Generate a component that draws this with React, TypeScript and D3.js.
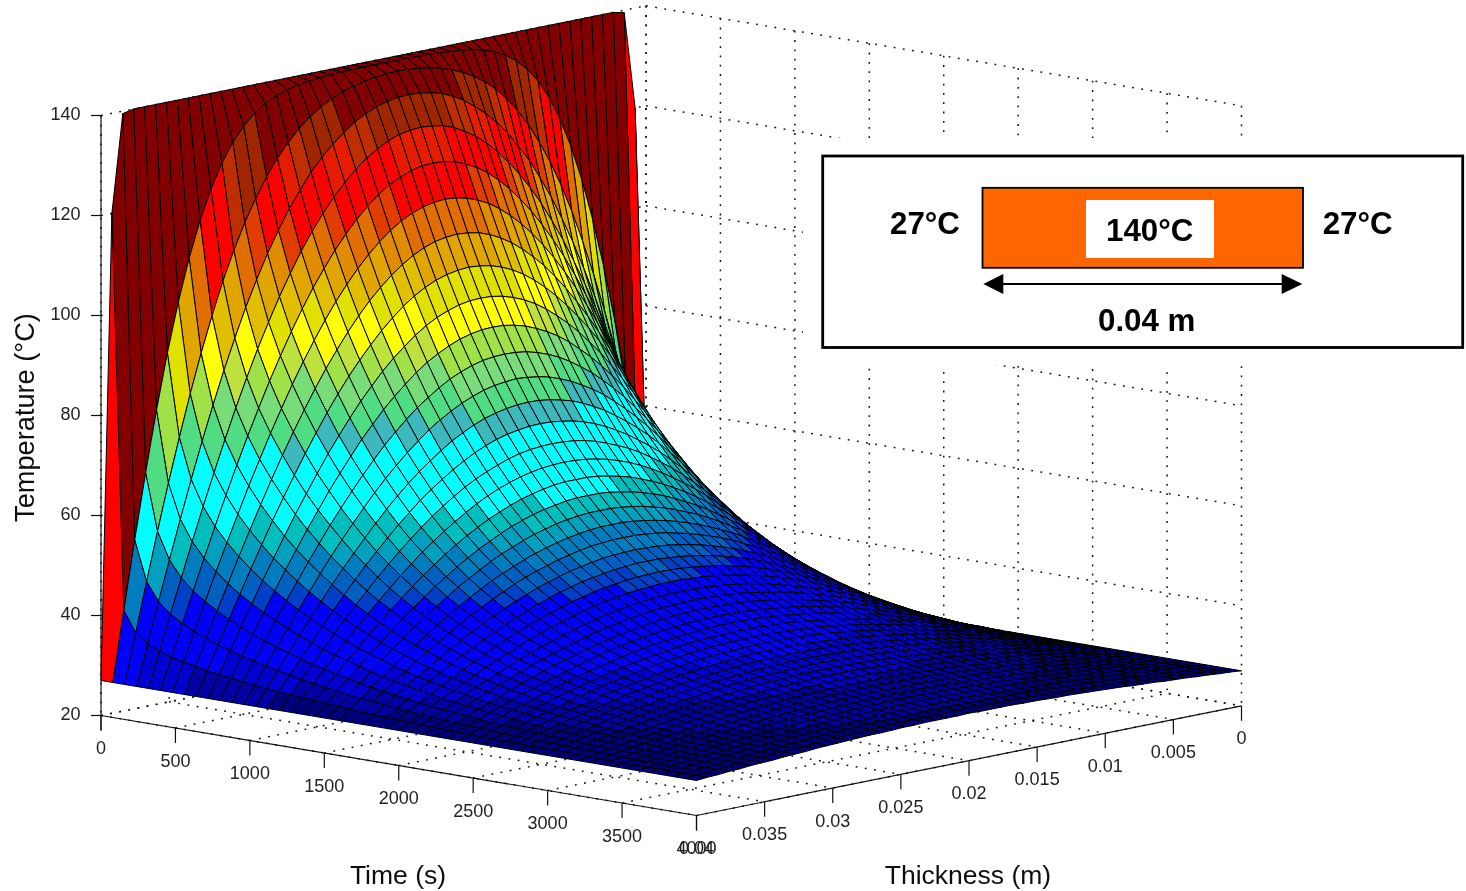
import React from "react";
import * as d3 from "d3";

const timeTicks = [0, 500, 1000, 1500, 2000, 2500, 3000, 3500, 4000];
const thicknessTicks = [0, 0.005, 0.01, 0.015, 0.02, 0.025, 0.03, 0.035, 0.04];
const thicknessTickLabels = ["0", "0.005", "0.01", "0.015", "0.02", "0.025", "0.03", "0.035", "0.04"];
const tempTicks = [20, 40, 60, 80, 100, 120, 140];

const timeStep = 80; // s between rows of the mesh
const thicknessStep = 0.0008; // m between columns of the mesh
const midColumn = 25;

// temperature, one row per time step (t = 0, 80, 160 ...),
// from the face of the plate to mid thickness. the other half is the mirror image.
const tempRows = [
  [27,120,139.5,140,140,140,140,140,140,140,140,140,140,140,140,140,140,140,140,140,140,140,140,140,140,140],
  [27,41.0,54.6,67.6,79.7,90.7,100.4,108.8,115.9,121.7,126.5,130.2,133.0,135.1,136.7,137.8,138.5,139.1,139.4,139.6,139.8,139.9,139.9,140,140,140],
  [27,36.9,46.7,56.3,65.5,74.2,82.5,90.2,97.2,103.7,109.4,114.5,118.9,122.8,126.1,128.8,131.2,133.1,134.6,135.8,136.8,137.5,138.0,138.4,138.6,138.7],
  [27,35.1,43.1,51.0,58.7,66.2,73.4,80.2,86.7,92.7,98.4,103.5,108.3,112.5,116.5,119.7,122.9,125.4,127.6,129.4,131.1,132.3,133.3,133.9,134.3,134.4],
  [27,34.0,41.0,47.8,54.6,61.2,67.5,73.7,79.6,85.2,90.5,95.4,100.1,104.3,108.3,111.8,115.0,117.8,120.3,122.5,124.3,125.7,126.9,127.7,128.1,128.3],
  [27,33.2,39.5,45.6,51.7,57.6,63.4,69.0,74.4,79.5,84.5,89.1,93.5,97.6,101.4,104.8,108.0,110.8,113.3,115.5,117.4,118.9,120.0,120.9,121.4,121.5],
  [27,32.7,38.3,43.9,49.4,54.8,60.0,65.2,70.1,74.9,79.4,83.8,87.9,91.7,95.3,98.6,101.6,104.3,106.7,108.8,110.6,112.1,113.2,114.0,114.5,114.7],
  [27,32.2,37.3,42.4,47.4,52.4,57.2,61.9,66.5,70.9,75.1,79.1,82.9,86.5,89.8,92.9,95.7,98.3,100.5,102.5,104.2,105.6,106.7,107.5,107.9,108.1],
  [27,31.7,36.4,41.1,45.7,50.3,54.7,59.1,63.3,67.3,71.2,74.9,78.5,81.8,84.9,87.7,90.3,92.7,94.8,96.7,98.3,99.6,100.6,101.3,101.7,101.9],
  [27,31.3,35.7,40.0,44.2,48.4,52.4,56.4,60.3,64.0,67.6,71.1,74.3,77.4,80.3,82.9,85.4,87.6,89.5,91.3,92.8,94.0,94.9,95.6,96.0,96.1],
  [27,31.0,35.0,38.9,42.8,46.7,50.5,54.1,57.7,61.1,64.5,67.6,70.6,73.5,76.1,78.6,80.8,82.8,84.7,86.3,87.6,88.7,89.6,90.2,90.6,90.7],
  [27,30.7,34.4,38.0,41.6,45.2,48.6,52.0,55.3,58.5,61.5,64.4,67.2,69.8,72.3,74.5,76.6,78.5,80.1,81.6,82.9,83.9,84.7,85.3,85.6,85.7],
  [27,30.4,33.8,37.1,40.5,43.7,46.9,50.1,53.1,56.0,58.8,61.5,64.1,66.5,68.7,70.8,72.7,74.5,76.0,77.3,78.5,79.4,80.2,80.7,81.0,81.2],
  [27,30.1,33.3,36.4,39.4,42.4,45.4,48.3,51.1,53.7,56.3,58.8,61.2,63.4,65.5,67.4,69.1,70.7,72.2,73.4,74.5,75.4,76.0,76.5,76.8,76.9],
  [27,29.9,32.8,35.6,38.4,41.2,43.9,46.6,49.2,51.7,54.0,56.3,58.5,60.5,62.5,64.2,65.8,67.3,68.6,69.8,70.8,71.6,72.2,72.6,72.9,73.0],
  [27,29.7,32.3,34.9,37.5,40.1,42.6,45.1,47.4,49.7,51.9,54.0,56.0,57.9,59.7,61.3,62.8,64.2,65.4,66.4,67.3,68.1,68.7,69.1,69.3,69.4],
  [27,29.5,31.9,34.3,36.7,39.1,41.4,43.6,45.8,47.9,50.0,51.9,53.8,55.5,57.1,58.6,60.0,61.3,62.4,63.4,64.2,64.9,65.4,65.8,66.0,66.1],
  [27,29.3,31.5,33.8,36.0,38.1,40.3,42.3,44.4,46.3,48.2,50.0,51.7,53.3,54.8,56.2,57.4,58.6,59.6,60.5,61.3,61.9,62.4,62.8,63.0,63.0],
  [27,29.1,31.2,33.2,35.3,37.3,39.2,41.1,43.0,44.8,46.5,48.2,49.7,51.2,52.6,53.9,55.0,56.1,57.1,57.9,58.6,59.2,59.6,60.0,60.2,60.2],
  [27,28.9,30.8,32.7,34.6,36.5,38.3,40.0,41.8,43.4,45.0,46.5,48.0,49.3,50.6,51.8,52.9,53.8,54.7,55.5,56.1,56.7,57.1,57.4,57.6,57.6],
  [27,28.8,30.5,32.3,34.0,35.7,37.4,39.0,40.6,42.1,43.6,45.0,46.3,47.6,48.8,49.8,50.8,51.7,52.5,53.2,53.8,54.3,54.7,55.0,55.2,55.2],
  [27,28.6,30.3,31.9,33.5,35.0,36.6,38.1,39.5,40.9,42.3,43.6,44.8,46.0,47.0,48.1,49.0,49.8,50.5,51.2,51.7,52.2,52.6,52.8,53.0,53.0],
  [27,28.5,30.0,31.5,33.0,34.4,35.8,37.2,38.6,39.9,41.1,42.3,43.4,44.5,45.5,46.4,47.3,48.0,48.7,49.3,49.8,50.2,50.6,50.8,50.9,51.0],
  [27,28.4,29.8,31.1,32.5,33.8,35.1,36.4,37.7,38.8,40.0,41.1,42.1,43.1,44.0,44.9,45.7,46.4,47.0,47.6,48.0,48.4,48.7,48.9,49.1,49.1],
  [27,28.3,29.6,30.8,32.1,33.3,34.5,35.7,36.8,37.9,39.0,40.0,41.0,41.9,42.7,43.5,44.2,44.9,45.4,46.0,46.4,46.7,47.0,47.2,47.3,47.4],
  [27,28.2,29.4,30.5,31.7,32.8,33.9,35.0,36.1,37.1,38.0,39.0,39.9,40.7,41.5,42.2,42.9,43.5,44.0,44.5,44.9,45.2,45.5,45.6,45.8,45.8],
  [27,28.1,29.2,30.2,31.3,32.4,33.4,34.4,35.3,36.3,37.2,38.0,38.9,39.6,40.3,41.0,41.6,42.2,42.7,43.1,43.5,43.8,44.0,44.2,44.3,44.3],
  [27,28.0,29.0,30.0,31.0,31.9,32.9,33.8,34.7,35.6,36.4,37.2,37.9,38.6,39.3,39.9,40.5,41.0,41.4,41.8,42.2,42.5,42.7,42.8,42.9,43.0],
  [27,27.9,28.8,29.8,30.7,31.5,32.4,33.3,34.1,34.9,35.7,36.4,37.1,37.7,38.3,38.9,39.4,39.9,40.3,40.7,41.0,41.3,41.5,41.6,41.7,41.7],
  [27,27.9,28.7,29.5,30.4,31.2,32.0,32.8,33.5,34.3,35.0,35.6,36.3,36.9,37.5,38.0,38.5,38.9,39.3,39.6,39.9,40.1,40.3,40.5,40.5,40.6],
  [27,27.8,28.6,29.3,30.1,30.9,31.6,32.3,33.0,33.7,34.3,35.0,35.6,36.1,36.6,37.1,37.6,38.0,38.3,38.6,38.9,39.1,39.3,39.4,39.5,39.5],
  [27,27.7,28.4,29.2,29.9,30.6,31.2,31.9,32.6,33.2,33.8,34.3,34.9,35.4,35.9,36.3,36.7,37.1,37.4,37.7,38.0,38.2,38.3,38.4,38.5,38.5],
  [27,27.7,28.3,29.0,29.6,30.3,30.9,31.5,32.1,32.7,33.2,33.8,34.3,34.7,35.2,35.6,36.0,36.3,36.6,36.9,37.1,37.3,37.4,37.5,37.6,37.6],
  [27,27.6,28.2,28.8,29.4,30.0,30.6,31.2,31.7,32.2,32.8,33.2,33.7,34.1,34.5,34.9,35.3,35.6,35.9,36.1,36.3,36.5,36.6,36.7,36.8,36.8],
  [27,27.6,28.1,28.7,29.2,29.8,30.3,30.8,31.4,31.8,32.3,32.8,33.2,33.6,34.0,34.3,34.6,34.9,35.2,35.4,35.6,35.7,35.9,36.0,36.0,36.0],
  [27,27.5,28.0,28.6,29.1,29.6,30.1,30.5,31.0,31.5,31.9,32.3,32.7,33.1,33.4,33.7,34.0,34.3,34.5,34.7,34.9,35.1,35.2,35.3,35.3,35.3],
  [27,27.5,28.0,28.4,28.9,29.4,29.8,30.3,30.7,31.1,31.5,31.9,32.3,32.6,32.9,33.2,33.5,33.7,33.9,34.1,34.3,34.4,34.5,34.6,34.7,34.7],
  [27,27.4,27.9,28.3,28.8,29.2,29.6,30.0,30.4,30.8,31.2,31.5,31.8,32.2,32.4,32.7,33.0,33.2,33.4,33.6,33.7,33.8,33.9,34.0,34.1,34.1],
  [27,27.4,27.8,28.2,28.6,29.0,29.4,29.8,30.1,30.5,30.8,31.2,31.5,31.8,32.0,32.3,32.5,32.7,32.9,33.1,33.2,33.3,33.4,33.5,33.5,33.5],
  [27,27.4,27.8,28.1,28.5,28.9,29.2,29.6,29.9,30.2,30.5,30.8,31.1,31.4,31.6,31.9,32.1,32.3,32.4,32.6,32.7,32.8,32.9,33.0,33.0,33.0],
  [27,27.3,27.7,28.0,28.4,28.7,29.0,29.4,29.7,30.0,30.3,30.5,30.8,31.0,31.3,31.5,31.7,31.9,32.0,32.2,32.3,32.4,32.4,32.5,32.5,32.5],
  [27,27.3,27.6,28.0,28.3,28.6,28.9,29.2,29.5,29.7,30.0,30.3,30.5,30.7,30.9,31.1,31.3,31.5,31.6,31.7,31.9,31.9,32.0,32.1,32.1,32.1],
  [27,27.3,27.6,27.9,28.2,28.5,28.7,29.0,29.3,29.5,29.8,30.0,30.2,30.4,30.6,30.8,31.0,31.1,31.3,31.4,31.5,31.6,31.6,31.7,31.7,31.7],
  [27,27.3,27.5,27.8,28.1,28.3,28.6,28.8,29.1,29.3,29.6,29.8,30.0,30.2,30.3,30.5,30.7,30.8,30.9,31.0,31.1,31.2,31.3,31.3,31.3,31.3],
  [27,27.3,27.5,27.7,28.0,28.2,28.5,28.7,28.9,29.1,29.4,29.5,29.7,29.9,30.1,30.2,30.4,30.5,30.6,30.7,30.8,30.9,30.9,31.0,31.0,31.0],
  [27,27.2,27.5,27.7,27.9,28.1,28.4,28.6,28.8,29.0,29.2,29.3,29.5,29.7,29.8,30.0,30.1,30.2,30.3,30.4,30.5,30.6,30.6,30.7,30.7,30.7],
  [27,27.2,27.4,27.6,27.8,28.1,28.3,28.4,28.6,28.8,29.0,29.2,29.3,29.5,29.6,29.8,29.9,30.0,30.1,30.2,30.2,30.3,30.3,30.4,30.4,30.4],
  [27,27.2,27.4,27.6,27.8,28.0,28.2,28.3,28.5,28.7,28.8,29.0,29.1,29.3,29.4,29.5,29.6,29.7,29.8,29.9,30.0,30.0,30.1,30.1,30.1,30.1],
  [27,27.2,27.4,27.5,27.7,27.9,28.1,28.2,28.4,28.5,28.7,28.8,29.0,29.1,29.2,29.3,29.4,29.5,29.6,29.7,29.7,29.8,29.8,29.9,29.9,29.9],
  [27,27.2,27.3,27.5,27.7,27.8,28.0,28.1,28.3,28.4,28.6,28.7,28.8,28.9,29.0,29.2,29.2,29.3,29.4,29.5,29.5,29.6,29.6,29.6,29.7,29.7],
  [27,27.2,27.3,27.5,27.6,27.8,27.9,28.0,28.2,28.3,28.4,28.6,28.7,28.8,28.9,29.0,29.1,29.1,29.2,29.3,29.3,29.4,29.4,29.4,29.4,29.5],
];

// the picture has a reduced palette, so the colour map comes in flat bands
const bandLimits = [30, 32.5, 36, 47, 49, 52, 55.5, 58.5, 62, 75, 79, 83.5, 88, 91, 94, 99, 103, 106, 110, 113, 116, 119.5, 127, 129.5, 133, 136.5];
const bandColors = [
  "#00007d", "#0000a5", "#0000d2", "#0000ff", "#0040c8", "#0060c0", "#007dbe", "#00a0be", "#00bebe", "#00ffff",
  "#3cb9be", "#50dc82", "#78dc78", "#a0e146", "#bee13c", "#ffff00", "#e1e100", "#e1be00", "#e1a500", "#e18c00",
  "#e16e00", "#e13c00", "#ff0000", "#e61e00", "#be2d00", "#a02800", "#820000",
];

const colorOf = d3.scaleThreshold<number, string>().domain(bandLimits).range(bandColors);

// orthographic view: each data axis adds its own screen offset
const xFromTime = d3.scaleLinear().domain([0, 4000]).range([0, 595.5]);
const yFromTime = d3.scaleLinear().domain([0, 4000]).range([0, 100]);
const xFromThickness = d3.scaleLinear().domain([0.04, 0]).range([101, 646]);
const yFromThickness = d3.scaleLinear().domain([0.04, 0]).range([0, -109.7]);
const yFromTemp = d3.scaleLinear().domain([20, 140]).range([715.5, 115.5]);

const project = (t: number, x: number, z: number): [number, number] => [
  xFromThickness(x) + xFromTime(t),
  yFromTemp(z) + yFromTime(t) + yFromThickness(x),
];

const tempAt = (row: number, col: number) =>
  tempRows[row][col <= midColumn ? col : 2 * midColumn - col];

const nodeT = (row: number) => row * timeStep;
const nodeX = (col: number) => 0.04 - col * thicknessStep;

const outline = d3.line();

// far rows first and far columns first, so nearer faces paint over
const faces: { d: string; fill: string }[] = [];
for (let row = 0; row < tempRows.length - 1; row++) {
  for (let col = 2 * midColumn - 1; col >= 0; col--) {
    const corners: [number, number][] = [
      project(nodeT(row), nodeX(col), tempAt(row, col)),
      project(nodeT(row), nodeX(col + 1), tempAt(row, col + 1)),
      project(nodeT(row + 1), nodeX(col + 1), tempAt(row + 1, col + 1)),
      project(nodeT(row + 1), nodeX(col), tempAt(row + 1, col)),
    ];
    faces.push({ d: outline(corners) + "Z", fill: colorOf(tempAt(row, col + 1)) });
  }
}

const FONT = "'Liberation Sans', Arial, sans-serif";
const GRID = { stroke: "#111", strokeWidth: 1.5, strokeDasharray: "1.8 7.5", fill: "none" };
const AXIS = { stroke: "#111", strokeWidth: 1.2 };

function Seg({ a, b, style }: { a: [number, number]; b: [number, number]; style: any }) {
  return <line x1={a[0]} y1={a[1]} x2={b[0]} y2={b[1]} {...style} />;
}

export default function App() {
  const topT = 140;
  const floor = 20;
  return (
    <svg width={1466} height={891} style={{ position: "absolute", left: 0, top: 0, background: "#fff" }}>
      {/* the reference is a slightly soft upscaled screenshot */}
      <filter id="soft" x="0" y="0" width="100%" height="100%" filterUnits="userSpaceOnUse">
        <feGaussianBlur stdDeviation={0.45} />
      </filter>
      <g filter="url(#soft)">
        <rect width={1466} height={891} fill="#fff" />
        {/* back planes and floor */}
        <g>
          {tempTicks.map((z) => (
            <g key={z}>
              <Seg a={project(0, 0.04, z)} b={project(0, 0, z)} style={GRID} />
              <Seg a={project(0, 0, z)} b={project(4000, 0, z)} style={GRID} />
            </g>
          ))}
          {timeTicks.map((t) => (
            <g key={t}>
              <Seg a={project(t, 0, topT)} b={project(t, 0, floor)} style={GRID} />
              <Seg a={project(t, 0.04, floor)} b={project(t, 0, floor)} style={GRID} />
            </g>
          ))}
          {thicknessTicks.map((x) => (
            <g key={x}>
              <Seg a={project(0, x, topT)} b={project(0, x, floor)} style={GRID} />
              <Seg a={project(0, x, floor)} b={project(4000, x, floor)} style={GRID} />
            </g>
          ))}
        </g>

        {/* the inset was pasted on a white patch that hides part of the grid */}
        <rect x={803} y={138} width={663} height={227} fill="#fff" />

        {/* axes */}
        <g fontFamily={FONT} fontSize={18} fill="#222">
          <Seg a={project(0, 0.04, 140)} b={[101, 730.5]} style={AXIS} />
          <Seg a={project(0, 0.04, 20)} b={project(4000, 0.04, 20)} style={AXIS} />
          <Seg a={project(4000, 0.04, 20)} b={project(4000, 0, 20)} style={AXIS} />
          {tempTicks.map((z) => {
            const [px, py] = project(0, 0.04, z);
            return (
              <g key={z}>
                <line x1={px - 10} x2={px} y1={py} y2={py} {...AXIS} />
                <text x={80.5} y={py + 4.5} textAnchor="end">{z}</text>
              </g>
            );
          })}
          {timeTicks.map((t) => {
            const [px, py] = project(t, 0.04, 20);
            return (
              <g key={t}>
                <line x1={px} x2={px} y1={py} y2={py + 15} {...AXIS} />
                <text x={px} y={py + 38.5} textAnchor="middle">{t}</text>
              </g>
            );
          })}
          {thicknessTicks.map((x, i) => {
            const [px, py] = project(4000, x, 20);
            return (
              <g key={x}>
                <line x1={px} x2={px} y1={py} y2={py + 15} {...AXIS} />
                <text x={px} y={py + 38.5} textAnchor="middle">{thicknessTickLabels[i]}</text>
              </g>
            );
          })}
        </g>

        {/* surface */}
        <g stroke="#000" strokeWidth={1} strokeLinejoin="round">
          {faces.map((f, i) => (
            <path key={i} d={f.d} fill={f.fill} />
          ))}
        </g>

        {/* axis titles */}
        <g fontFamily={FONT} fontSize={26.5} fill="#111">
          <text x={398} y={884} textAnchor="middle">Time (s)</text>
          <text x={968} y={884} textAnchor="middle">Thickness (m)</text>
          <text transform="translate(34,417.5) rotate(-90)" textAnchor="middle" fontSize={27.2}>Temperature (°C)</text>
        </g>

        {/* inset sketch of the plate */}
        <g fontFamily={FONT} fontWeight="bold" fontSize={31.3} fill="#000">
          <rect x={822.7} y={156} width={640} height={191.5} fill="#fff" stroke="#000" strokeWidth={2.8} />
          <rect x={982.5} y={187.8} width={320.5} height={80} fill="#ff6600" stroke="#000" strokeWidth={1.8} />
          <rect x={1086} y={200} width={128} height={58} fill="#fff" />
          <text x={890} y={234}>27°C</text>
          <text x={1322.7} y={234}>27°C</text>
          <text x={1106} y={241}>140°C</text>
          <text x={1098} y={331}>0.04 m</text>
          <line x1={1000} x2={1285} y1={284} y2={284} stroke="#000" strokeWidth={2} />
          <path d="M983.3,284L1003.3,274V294Z" />
          <path d="M1302.3,284L1281.7,274V294Z" />
        </g>
      </g>
    </svg>
  );
}
